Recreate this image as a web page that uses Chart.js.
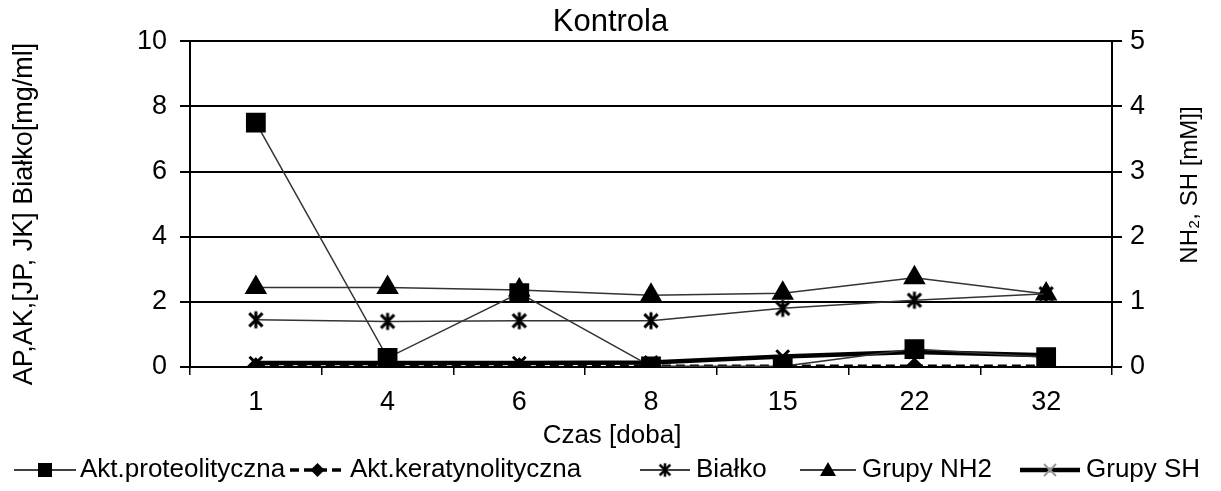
<!DOCTYPE html>
<html>
<head>
<meta charset="utf-8">
<script src="https://cdn.jsdelivr.net/npm/chart.js@4.4.1/dist/chart.umd.min.js"></script>
<style>
  html, body { margin: 0; padding: 0; background: #fff; }
  canvas { display: block; }
</style>
</head>
<body>
<canvas id="chart" width="1221" height="491"></canvas>
<script>
'use strict';

/* ---------- data ---------- */
let days = ['1', '4', '6', '8', '15', '22', '32'];            // Czas [doba]
let proteolityczna = [7.5, 0.28, 2.27, 0.02, 0.02, 0.55, 0.3]; // left axis
let keratynolityczna = [0.02, 0.02, 0.02, 0.02, 0.02, 0.02, 0.02];
let bialko = [1.45, 1.4, 1.42, 1.42, 1.8, 2.05, 2.25];
let grupyNH2 = [1.22, 1.22, 1.18, 1.1, 1.13, 1.37, 1.12];     // right axis
let grupySH = [0.06, 0.06, 0.06, 0.07, 0.16, 0.23, 0.18];
let leftTicks = { min: 0, max: 10, step: 2 };
let rightTicks = { min: 0, max: 5, step: 1 };

let fontFamily = '"Liberation Sans", Arial, sans-serif';

//  Excel style star marker: X with a vertical bar
function makeStar(size, lw) {
  let c = document.createElement('canvas');
  c.width = size;
  c.height = size;
  let g = c.getContext('2d');
  let h = size / 2;
  let r = h - lw / 2;
  let d = r * 0.78;
  g.strokeStyle = '#000';
  g.lineWidth = lw;
  g.beginPath();
  g.moveTo(h, h - r); g.lineTo(h, h + r);
  g.moveTo(h - d, h - d); g.lineTo(h + d, h + d);
  g.moveTo(h + d, h - d); g.lineTo(h - d, h + d);
  g.stroke();
  return c;
}
let starImg = makeStar(20, 3);

/* ---------- custom texts + legend ---------- */
let extrasPlugin = {
  id: 'extras',
  afterDraw(chart) {
    let ctx = chart.ctx;
    ctx.save();
    ctx.fillStyle = '#000';

    //  x axis title, centred on the whole figure like excel does
    ctx.font = '26px ' + fontFamily;
    ctx.textAlign = 'center';
    ctx.textBaseline = 'middle';
    ctx.fillText('Czas [doba]', 612, 436);

    //  left axis title
    ctx.save();
    ctx.translate(25, 214);
    ctx.rotate(-Math.PI / 2);
    ctx.font = '27px ' + fontFamily;
    ctx.fillText('AP,AK,[JP, JK] Białko[mg/ml]', 0, 0);
    ctx.restore();

    //  right axis title, reads bottom to top
    ctx.save();
    ctx.translate(1190, 185);
    ctx.rotate(-Math.PI / 2);
    ctx.font = '24px ' + fontFamily;
    ctx.fillText('NH\u2082, SH [mM]]', 0, 0);
    ctx.restore();

    //  legend: line segment with marker, then label
    let legendY = 470;
    let items = [
      { x: 14, len: 62, tx: 80, text: 'Akt.proteolityczna', width: 1.5, dash: [], marker: 'rect' },
      { x: 290, len: 55, tx: 350, text: 'Akt.keratynolityczna', width: 3.5, dash: [9, 5], marker: 'diamond' },
      { x: 640, len: 50, tx: 696, text: 'Białko', width: 1.5, dash: [], marker: 'star' },
      { x: 800, len: 56, tx: 862, text: 'Grupy NH2', width: 1.5, dash: [], marker: 'triangle' },
      { x: 1020, len: 60, tx: 1086, text: 'Grupy SH', width: 4.5, dash: [], marker: 'cross' }
    ];
    for (let idx = 0; idx < items.length; idx++) {
      let it = items[idx];
      let cx = it.x + it.len / 2;
      ctx.strokeStyle = '#000';
      ctx.lineWidth = it.width;
      ctx.setLineDash(it.dash);
      ctx.beginPath();
      ctx.moveTo(it.x, legendY);
      ctx.lineTo(it.x + it.len, legendY);
      ctx.stroke();
      ctx.setLineDash([]);
      ctx.beginPath();
      if (it.marker === 'rect') {
        ctx.fillRect(cx - 7, legendY - 7, 14, 14);
      } else if (it.marker === 'diamond') {
        ctx.moveTo(cx, legendY - 7); ctx.lineTo(cx + 7, legendY);
        ctx.lineTo(cx, legendY + 7); ctx.lineTo(cx - 7, legendY);
        ctx.closePath(); ctx.fill();
      } else if (it.marker === 'star') {
        ctx.drawImage(starImg, cx - 8, legendY - 8, 16, 16);
      } else if (it.marker === 'triangle') {
        ctx.moveTo(cx, legendY - 8); ctx.lineTo(cx + 8, legendY + 6);
        ctx.lineTo(cx - 8, legendY + 6); ctx.closePath(); ctx.fill();
      } else if (it.marker === 'cross') {
        ctx.lineWidth = 2;
        ctx.strokeStyle = '#999';
        ctx.moveTo(cx - 6, legendY - 6); ctx.lineTo(cx + 6, legendY + 6);
        ctx.moveTo(cx + 6, legendY - 6); ctx.lineTo(cx - 6, legendY + 6);
        ctx.stroke();
      }
      ctx.font = '26px ' + fontFamily;
      ctx.textAlign = 'left';
      ctx.textBaseline = 'middle';
      ctx.fillText(it.text, it.tx, legendY);
    }
    ctx.restore();
  }
};

const data = {
  labels: days,
  datasets: [{
    label: 'Akt.proteolityczna',
    data: proteolityczna,
    yAxisID: 'y',
    borderColor: '#333',
    borderWidth: 1.5,
    pointStyle: 'rect',
    pointRadius: 14,
    pointBackgroundColor: '#000',
    pointBorderColor: '#000',
    pointBorderWidth: 0
  },
  {
    label: 'Akt.keratynolityczna',
    data: keratynolityczna,
    yAxisID: 'y',
    borderColor: '#000',
    borderWidth: 3.5,
    borderDash: [9, 5],
    pointStyle: 'rectRot',
    pointRadius: 9,
    pointBackgroundColor: '#000',
    pointBorderColor: '#000',
    pointBorderWidth: 0
  },
  {
    label: 'Białko',
    data: bialko,
    yAxisID: 'y',
    borderColor: '#333',
    borderWidth: 1.5,
    pointStyle: starImg,
    pointRadius: 10
  },
  {
    label: 'Grupy NH2',
    data: grupyNH2,
    yAxisID: 'y2',
    borderColor: '#333',
    borderWidth: 1.5,
    pointStyle: 'triangle',
    pointRadius: 13,
    pointBackgroundColor: '#000',
    pointBorderColor: '#000',
    pointBorderWidth: 0
  },
  {
    label: 'Grupy SH',
    data: grupySH,
    yAxisID: 'y2',
    borderColor: '#000',
    borderWidth: 4.5,
    pointStyle: 'crossRot',
    pointRadius: 9,
    pointBorderColor: '#000',
    pointBorderWidth: 3
  }]
};

const config = {
  type: 'line',
  data: data,
  plugins: [extrasPlugin],
  options: {
    responsive: false,
    animation: false,
    devicePixelRatio: 1,
    layout: { padding: { top: 0, left: 0, right: 0, bottom: 34 } },
    elements: { line: { tension: 0, fill: false } },
    plugins: {
      legend: { display: false },
      tooltip: { enabled: false },
      title: {
        display: true,
        text: 'Kontrola',
        color: '#000',
        font: { family: fontFamily, size: 31, weight: 'normal' },
        padding: { top: 4, bottom: 0 }
      }
    },
    scales: {
      x: {
        type: 'category',
        offset: true,
        afterFit(scale) { scale.height = 90; },
        grid: { offset: true, drawOnChartArea: false, drawTicks: true, tickLength: 8, color: '#000', lineWidth: 1.5 },
        border: { display: true, color: '#000', width: 2 },
        ticks: { color: '#000', padding: 11, font: { family: fontFamily, size: 27 } }
      },
      y: {
        position: 'left',
        min: leftTicks.min,
        max: leftTicks.max,
        afterFit(scale) { scale.width = 190; },
        ticks: { stepSize: leftTicks.step, color: '#000', padding: 13, font: { family: fontFamily, size: 27 } },
        grid: { color: '#000', lineWidth: 2, drawTicks: true, tickLength: 10 },
        border: { display: true, color: '#000', width: 2 }
      },
      y2: {
        position: 'right',
        min: rightTicks.min,
        max: rightTicks.max,
        afterFit(scale) { scale.width = 109; },
        ticks: { stepSize: rightTicks.step, color: '#000', padding: 8, font: { family: fontFamily, size: 27 } },
        grid: { drawOnChartArea: false, color: '#000', lineWidth: 2, drawTicks: true, tickLength: 10 },
        border: { display: true, color: '#000', width: 2 }
      }
    }
  }
};

const resultChart = new Chart(document.getElementById('chart'), config);
</script>
</body>
</html>
